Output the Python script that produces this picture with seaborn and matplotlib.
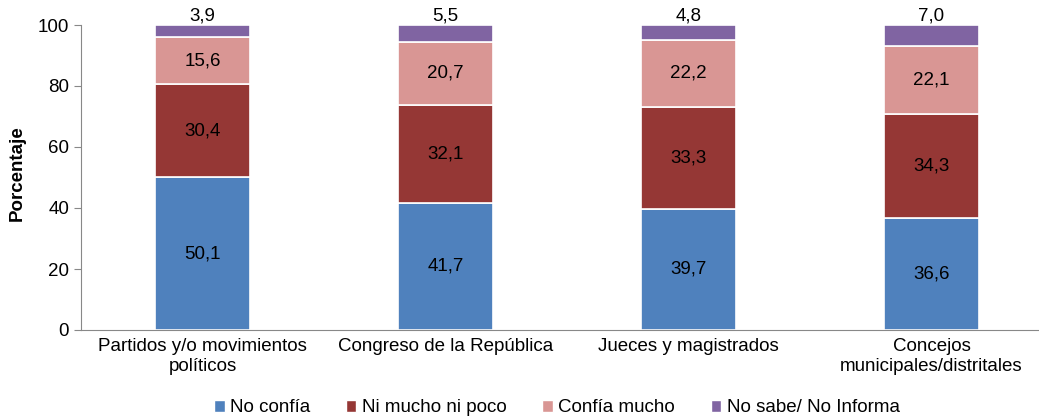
import numpy as np
import pandas as pd
import seaborn as sns
import matplotlib.pyplot as plt
from matplotlib.patches import Patch

categories = ['Partidos y/o movimientos\npolíticos', 'Congreso de la República',
              'Jueces y magistrados', 'Concejos\nmunicipales/distritales']
series = ['No confía', 'Ni mucho ni poco', 'Confía mucho', 'No sabe/ No Informa']
no_confia = [50.1, 41.7, 39.7, 36.6]
ni_mucho = [30.4, 32.1, 33.3, 34.3]
confia_mucho = [15.6, 20.7, 22.2, 22.1]
no_sabe = [3.9, 5.5, 4.8, 7.0]
colors = ['#4F81BD', '#953735', '#D99694', '#8064A2']

sns.set_style('white')
plt.rcParams['font.family'] = ['Liberation Sans', 'DejaVu Sans']
plt.rcParams['text.color'] = 'black'
plt.rcParams['axes.labelcolor'] = 'black'
plt.rcParams['xtick.color'] = 'black'
plt.rcParams['ytick.color'] = 'black'

df = pd.DataFrame({'cat': categories, series[0]: no_confia, series[1]: ni_mucho,
                   series[2]: confia_mucho, series[3]: no_sabe})

fig = plt.figure(figsize=(10.39, 4.17), dpi=100)
ax = fig.add_axes([81 / 1039, 1 - 330 / 417, 972 / 1039, 305 / 417])

bottom = np.zeros(len(categories))
for s, c in zip(series, colors):
    sns.barplot(data=df, x='cat', y=s, color=c, bottom=bottom, width=0.395,
                edgecolor='white', linewidth=1.2, saturation=1, ax=ax)
    vals = df[s].values
    for i, v in enumerate(vals):
        label = f'{v:.1f}'.replace('.', ',')
        if s == series[3]:
            ax.text(i, 100.3, label, ha='center', va='bottom', fontsize=13.5)
        else:
            ax.text(i, bottom[i] + v / 2, label, ha='center', va='center', fontsize=13.5)
    bottom = bottom + vals

ax.set_xlim(-0.5, 3.5)
ax.set_ylim(0, 100)
ax.set_yticks(range(0, 101, 20))
ax.set_xlabel('')
ax.set_ylabel('Porcentaje', fontsize=13.5, fontweight='bold')
ax.yaxis.set_label_coords(-0.057, 0.515)
ax.set_xticks([-0.5, 0.5, 1.5, 2.5, 3.5], minor=True)
ax.tick_params(axis='x', which='major', length=0, labelsize=13.5, pad=6)
ax.tick_params(axis='x', which='minor', length=5, color='#888888', direction='out')
ax.tick_params(axis='y', length=5, color='#888888', labelcolor='black', labelsize=13.5,
               left=True, direction='out')
for sp in ['top', 'right']:
    ax.spines[sp].set_visible(False)
for sp in ['left', 'bottom']:
    ax.spines[sp].set_color('#888888')

handles = [Patch(facecolor=c, label=s) for s, c in zip(series, colors)]
fig.legend(handles=handles, loc='center', bbox_to_anchor=(557 / 1039, 1 - 408 / 417), ncol=4,
           frameon=False, fontsize=13.5, handlelength=0.55, handleheight=0.55,
           handletextpad=0.3, columnspacing=1.9)

fig.savefig('out.png', dpi=100)
